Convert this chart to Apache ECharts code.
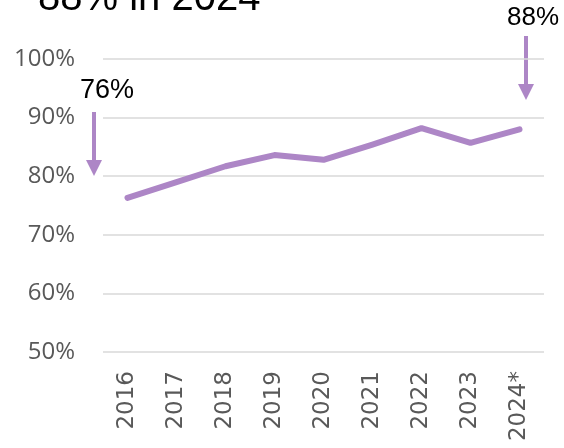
<!DOCTYPE html>
<html>
<head>
<meta charset="utf-8">
<script src="https://cdn.jsdelivr.net/npm/echarts@6/dist/echarts.min.js"></script>
<style>
    html, body { margin: 0; padding: 0; background: #fff; }
    #chart { width: 564px; height: 448px; }
</style>
</head>
<body>
<div id="chart"></div>
<script>
    // data
    const years = ['2016', '2017', '2018', '2019', '2020', '2021', '2022', '2023', '2024*'];
    const share = [76.3, 79.0, 81.7, 83.6, 82.8, 85.4, 88.2, 85.7, 88.0];
    const yTicks = { min: 50, max: 100, step: 10 };

    const purple = '#ad86c6';
    const grey = '#595959';

    let chart = echarts.init(document.getElementById('chart'));

    // annotation arrow: vertical shaft plus a triangle head
    function arrow(x, y1, y2) {
        return [
            {
                type: 'line',
                shape: { x1: x, y1: y1, x2: x, y2: y2 - 14 },
                style: { stroke: purple, lineWidth: 4 }
            },
            {
                type: 'polygon',
                shape: { points: [[x - 8, y2 - 16], [x + 8, y2 - 16], [x, y2]] },
                style: { fill: purple }
            }
        ];
    }

    let option = {
        animation: false,
        grid: { left: 103, right: 20, top: 59, bottom: 96 },
        xAxis: {
            type: 'category',
            data: years,
            boundaryGap: true,
            axisLine: { show: false },
            axisTick: { show: false },
            axisLabel: {
                rotate: 90,
                margin: 19,
                color: grey,
                fontFamily: 'DejaVu Sans',
                fontSize: 23
            }
        },
        yAxis: {
            type: 'value',
            min: yTicks.min,
            max: yTicks.max,
            interval: yTicks.step,
            axisLine: { show: false },
            axisTick: { show: false },
            axisLabel: {
                margin: 28,
                color: grey,
                fontFamily: 'Open Sans',
                fontSize: 24,
                formatter: '{value}%'
            },
            splitLine: { lineStyle: { color: '#d9d9d9', width: 1.5 } }
        },
        series: [
            {
                type: 'line',
                data: share,
                symbol: 'none',
                lineStyle: { color: purple, width: 6, cap: 'round', join: 'round' }
            }
        ],
        graphic: [
            {
                type: 'text',
                left: 38,
                top: -21,
                style: { text: '88% in 2024', font: '40px "Liberation Sans"', fill: '#000' }
            },
            {
                type: 'text',
                left: 80,
                top: 77,
                style: { text: '76%', font: '27px "Liberation Sans"', fill: '#000' }
            },
            {
                type: 'text',
                left: 507,
                top: 5,
                style: { text: '88%', font: '26px "Liberation Sans"', fill: '#000' }
            }
        ].concat(arrow(94, 112, 176), arrow(526, 36, 100))
    };
    chart.setOption(option);
</script>
</body>
</html>
